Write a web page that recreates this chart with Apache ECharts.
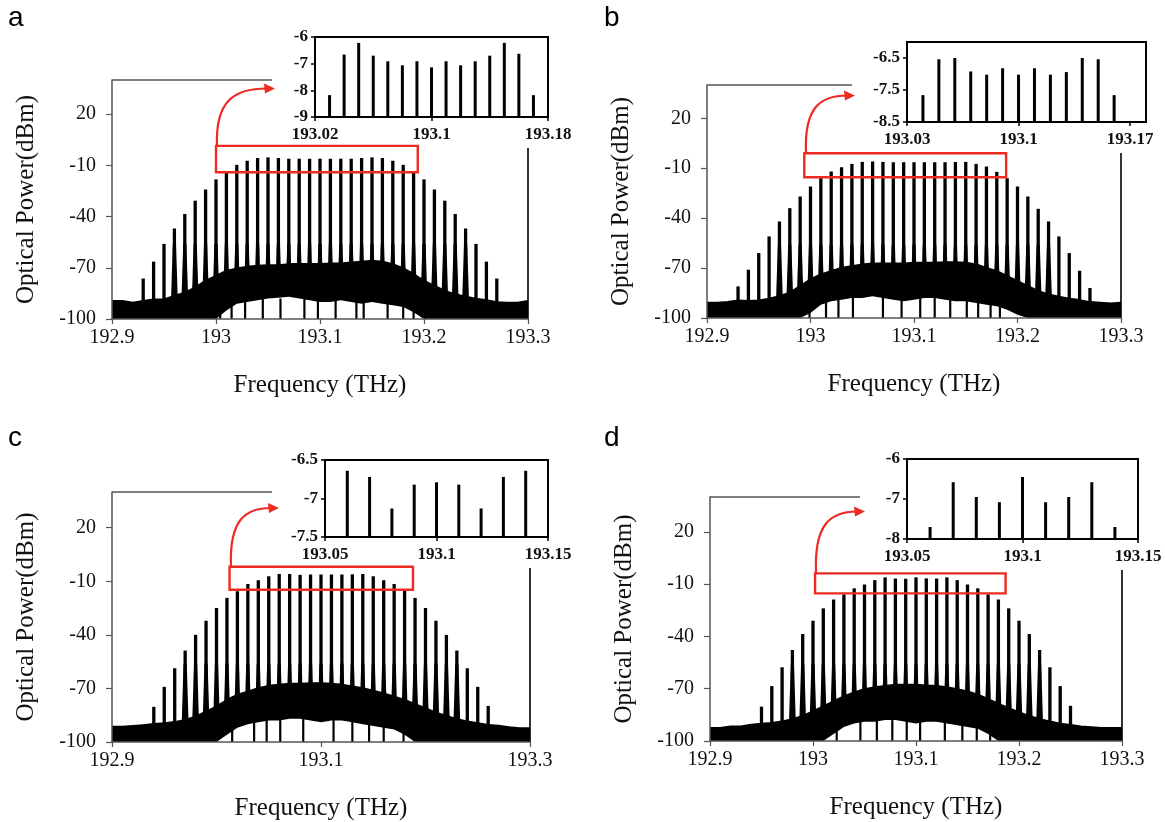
<!DOCTYPE html>
<html><head><meta charset="utf-8">
<script src="https://cdn.jsdelivr.net/npm/echarts@6/dist/echarts.min.js"></script>
<style>html,body{margin:0;padding:0;background:#fff}#c{width:1165px;height:822px}</style>
</head><body><div id="c"></div>
<script>
// ---------------- data ----------------
const noiseFreq = [192.90,192.91,192.92,192.93,192.94,192.95,192.96,192.97,192.98,192.99,193.00,193.01,193.02,193.03,193.04,193.05,193.06,193.07,193.08,193.09,193.10,193.11,193.12,193.13,193.14,193.15,193.16,193.17,193.18,193.19,193.20,193.21,193.22,193.23,193.24,193.25,193.26,193.27,193.28,193.29,193.30];

// upper edge of the noise / pedestal band (dBm)
const noiseTopA = [-89.6,-89.6,-90.6,-89.6,-88.7,-88.7,-86.7,-84.7,-81.7,-77.8,-74.9,-72.0,-70.5,-69.6,-69.0,-68.6,-68.6,-68.0,-68.0,-68.0,-68.0,-67.6,-67.6,-67.0,-66.6,-66.0,-66.6,-68.0,-70.5,-73.9,-77.8,-80.7,-83.7,-85.7,-87.1,-88.3,-89.1,-90.3,-90.6,-90.6,-89.6];
const noiseTopB = [-91.0,-91.0,-90.6,-89.6,-90.0,-89.6,-88.6,-87.0,-85.0,-81.0,-77.0,-74.0,-72.0,-70.0,-69.0,-68.0,-67.4,-67.4,-67.4,-67.4,-67.0,-67.0,-67.0,-66.6,-66.6,-67.0,-68.0,-70.0,-72.0,-75.0,-78.0,-81.0,-84.0,-86.0,-87.4,-88.6,-89.4,-90.6,-91.0,-91.4,-91.0];
const noiseTopC = [-91.6,-91.6,-91.2,-90.7,-90.1,-89.6,-89.0,-87.8,-85.9,-83.1,-80.3,-76.6,-73.7,-71.9,-70.0,-68.7,-68.1,-67.5,-67.5,-67.2,-67.2,-67.5,-68.1,-69.1,-70.0,-71.4,-72.9,-74.7,-76.6,-78.9,-81.3,-83.7,-85.6,-87.4,-88.7,-89.6,-90.6,-91.1,-91.9,-92.4,-92.4];
const noiseTopD = [-92.7,-92.7,-91.8,-91.8,-90.8,-90.3,-89.8,-88.9,-87.7,-85.7,-83.2,-80.3,-77.4,-74.6,-72.3,-70.4,-69.3,-68.6,-67.9,-67.9,-67.9,-68.3,-68.6,-69.3,-70.4,-71.7,-73.6,-76.1,-78.8,-81.3,-83.8,-85.7,-87.6,-89.0,-90.3,-90.9,-91.8,-92.2,-92.7,-92.7,-92.7];

// top of the empty (white) region under the pedestal (-100 = none)
const gapTopA = [-100,-100,-100,-100,-100,-100,-100,-100,-100,-100,-100,-95,-91,-90,-89,-88,-87.5,-87,-88,-89,-90,-90,-89,-90,-91,-90,-91,-92,-93,-96,-100,-100,-100,-100,-100,-100,-100,-100,-100,-100,-100];
const gapTopB = [-100,-100,-100,-100,-100,-100,-100,-100,-100,-100,-97,-92,-90,-89,-88,-88,-87,-88,-89,-90,-89,-88,-88,-89,-90,-90,-91,-92,-93,-95,-98,-100,-100,-100,-100,-100,-100,-100,-100,-100,-100];
const gapTopC = [-100,-100,-100,-100,-100,-100,-100,-100,-100,-100,-100,-96,-92,-90,-89,-88,-88,-87,-87,-88,-89,-88,-88,-89,-90,-91,-92,-93,-96,-100,-100,-100,-100,-100,-100,-100,-100,-100,-100,-100,-100];
const gapTopD = [-100,-100,-100,-100,-100,-100,-100,-100,-100,-100,-100,-100,-96,-92,-90,-89,-89,-88,-88,-89,-90,-89,-89,-90,-91,-92,-93,-96,-100,-100,-100,-100,-100,-100,-100,-100,-100,-100,-100,-100,-100];

// noise strands reaching the floor inside the empty region
const strandFreqA = [193.004,193.015,193.028,193.045,193.062,193.085,193.098,193.115,193.135,193.142,193.165,193.18,193.19];
const strandTopA  = [-92,-88,-89,-87,-88,-87,-89,-88,-88,-89,-89,-90,-93];
const strandFreqB = [192.999,193.015,193.027,193.041,193.07,193.088,193.106,193.12,193.135,193.151,193.162,193.174,193.183];
const strandTopB  = [-95,-89,-88,-87,-87,-88,-88,-88,-88,-89,-90,-90,-91];
const strandFreqC = [193.015,193.036,193.048,193.061,193.083,193.112,193.13,193.146,193.16,193.179];
const strandTopC  = [-90,-88,-87,-87,-87,-87,-88,-89,-89,-91];
const strandFreqD = [193.023,193.046,193.062,193.077,193.091,193.104,193.128,193.145,193.159,193.172];
const strandTopD  = [-91,-88,-88,-88,-88,-88,-88,-89,-90,-91];

// comb lines of the main spectra
const combFreqAB = [192.93,192.94,192.95,192.96,192.97,192.98,192.99,193.00,193.01,193.02,193.03,193.04,193.05,193.06,193.07,193.08,193.09,193.10,193.11,193.12,193.13,193.14,193.15,193.16,193.17,193.18,193.19,193.20,193.21,193.22,193.23,193.24,193.25,193.26,193.27];
const combFreqC = [192.94,192.95,192.96,192.97,192.98,192.99,193.00,193.01,193.02,193.03,193.04,193.05,193.06,193.07,193.08,193.09,193.10,193.11,193.12,193.13,193.14,193.15,193.16,193.17,193.18,193.19,193.20,193.21,193.22,193.23,193.24,193.25,193.26];
const combFreqD = [192.95,192.96,192.97,192.98,192.99,193.00,193.01,193.02,193.03,193.04,193.05,193.06,193.07,193.08,193.09,193.10,193.11,193.12,193.13,193.14,193.15,193.16,193.17,193.18,193.19,193.20,193.21,193.22,193.23,193.24,193.25];
const combPowA = [-76.3,-66.4,-56.0,-47.0,-38.5,-30.7,-24.2,-18.2,-13.6,-9.7,-7.3,-5.7,-5.3,-5.7,-6.1,-6.1,-6.1,-6.1,-6.1,-6.1,-6.1,-5.7,-5.3,-5.7,-7.3,-9.7,-13.6,-18.2,-24.2,-30.7,-38.5,-47.0,-56.0,-66.4,-76.3];
const combPowB = [-81.0,-71.0,-61.0,-51.0,-42.0,-34.0,-27.0,-21.0,-16.0,-12.0,-9.4,-7.4,-6.2,-6.0,-6.2,-6.4,-6.4,-6.4,-6.4,-6.4,-6.4,-6.2,-6.2,-7.4,-9.0,-12.2,-16.0,-21.0,-27.0,-34.4,-42.0,-51.0,-61.0,-71.6,-82.0];
const combPowC = [-80.3,-69.1,-58.7,-48.8,-40.0,-32.1,-25.0,-19.3,-15.6,-11.5,-9.4,-7.2,-5.9,-5.9,-6.4,-6.2,-6.2,-6.2,-6.2,-6.1,-5.9,-7.2,-9.4,-11.5,-15.2,-19.3,-25.0,-32.1,-40.0,-48.8,-58.7,-69.1,-79.8];
const combPowD = [-80.3,-68.5,-57.7,-47.8,-38.6,-31.0,-23.9,-18.8,-15.9,-12.4,-10.2,-7.7,-6.1,-6.7,-6.9,-6.1,-6.7,-6.7,-6.1,-7.7,-10.2,-12.4,-15.9,-18.8,-23.9,-31.0,-38.6,-47.8,-57.7,-68.5,-79.8];

// insets (zoom on the flat top)
const insetFreqA = [193.03,193.04,193.05,193.06,193.07,193.08,193.09,193.10,193.11,193.12,193.13,193.14,193.15,193.16,193.17];
const insetPowA  = [-8.18,-6.66,-6.22,-6.70,-6.91,-7.06,-6.91,-7.14,-6.91,-7.06,-6.91,-6.70,-6.22,-6.63,-8.18];
const insetFreqB = [193.04,193.05,193.06,193.07,193.08,193.09,193.10,193.11,193.12,193.13,193.14,193.15,193.16];
const insetPowB  = [-7.66,-6.54,-6.50,-6.92,-7.02,-6.82,-7.02,-6.82,-7.02,-6.94,-6.50,-6.54,-7.66];
const insetFreqC = [193.06,193.07,193.08,193.09,193.10,193.11,193.12,193.13,193.14];
const insetPowC  = [-6.64,-6.72,-7.13,-6.82,-6.79,-6.82,-7.13,-6.72,-6.64];
const insetFreqD = [193.06,193.07,193.08,193.09,193.10,193.11,193.12,193.13,193.14];
const insetPowD  = [-7.70,-6.58,-6.95,-7.08,-6.45,-7.08,-6.95,-6.58,-7.70];

// tick labels
const mainYTicks = [-100,-70,-40,-10,20];
const mainXTicksFull = [192.9,193,193.1,193.2,193.3];
const mainXTicksSparse = [192.9,193.1,193.3];
const insetXTicksA = [193.02,193.1,193.18];
const insetYTicksA = [-9,-8,-7,-6];
const insetXTicksB = [193.03,193.1,193.17];
const insetYTicksB = [-8.5,-7.5,-6.5];
const insetXTicksCD = [193.05,193.1,193.15];
const insetYTicksC = [-7.5,-7,-6.5];
const insetYTicksD = [-8,-7,-6];

// ---------------- layout ----------------
const SERIF = '"Liberation Serif","Times New Roman",serif';
const SANS = '"Liberation Sans",Arial,sans-serif';
const GRAY = '#555';
const RED = '#ee2a22';

const panels = [
  { letter:'a', lx:8, ly:18,
    main:{left:112, top:80, right:528, bottom:319}, xTicks:mainXTicksFull,
    topLineEnd:272, rightLineTop:148,
    noiseTop:noiseTopA, gapTop:gapTopA, strandF:strandFreqA, strandT:strandTopA,
    combF:combFreqAB, combP:combPowA, box:[193.0,1.4,193.194,-14.0],
    arrow:{x0:217, y0:147, x1:275, y1:88.5},
    inset:{left:315, top:37, right:548, bottom:117}, ix:[193.02,193.18], iy:[-9,-6],
    ixTicks:insetXTicksA, iyTicks:insetYTicksA, iF:insetFreqA, iP:insetPowA },
  { letter:'b', lx:604, ly:18,
    main:{left:707, top:85, right:1121, bottom:318}, xTicks:mainXTicksFull,
    topLineEnd:852, rightLineTop:153,
    noiseTop:noiseTopB, gapTop:gapTopB, strandF:strandFreqB, strandT:strandTopB,
    combF:combFreqAB, combP:combPowB, box:[192.994,-1.0,193.189,-15.4],
    arrow:{x0:806, y0:153, x1:855, y1:95.5},
    inset:{left:907, top:42, right:1146, bottom:122}, ix:[193.03,193.18], iy:[-8.5,-6],
    ixTicks:insetXTicksB, iyTicks:insetYTicksB, iF:insetFreqB, iP:insetPowB },
  { letter:'c', lx:8, ly:438,
    main:{left:112, top:492, right:530, bottom:742}, xTicks:mainXTicksSparse,
    topLineEnd:272, rightLineTop:568,
    noiseTop:noiseTopC, gapTop:gapTopC, strandF:strandFreqC, strandT:strandTopC,
    combF:combFreqC, combP:combPowC, box:[193.0125,-1.9,193.188,-14.7],
    arrow:{x0:231, y0:567, x1:279, y1:508},
    inset:{left:325, top:460, right:548, bottom:537}, ix:[193.05,193.15], iy:[-7.5,-6.5],
    ixTicks:insetXTicksCD, iyTicks:insetYTicksC, iF:insetFreqC, iP:insetPowC },
  { letter:'d', lx:604, ly:438,
    main:{left:710, top:497, right:1122, bottom:741}, xTicks:mainXTicksFull,
    topLineEnd:860, rightLineTop:570,
    noiseTop:noiseTopD, gapTop:gapTopD, strandF:strandFreqD, strandT:strandTopD,
    combF:combFreqD, combP:combPowD, box:[193.002,-3.8,193.187,-15.3],
    arrow:{x0:816, y0:573, x1:865, y1:511.5},
    inset:{left:907, top:459, right:1138, bottom:539}, ix:[193.05,193.15], iy:[-8,-6],
    ixTicks:insetXTicksCD, iyTicks:insetYTicksD, iF:insetFreqD, iP:insetPowD }
];

const zip = (xs, ys) => xs.map((x, i) => [x, ys[i]]);

function stickRender(yFrom, width) {
  return function (params, api) {
    const x = api.value(0), y = api.value(1);
    const p0 = api.coord([x, yFrom]);
    const p1 = api.coord([x, y]);
    return { type:'line', shape:{x1:p0[0], y1:p0[1], x2:p1[0], y2:p1[1]},
             style:{stroke:'#000', lineWidth:width, lineCap:'butt'} };
  };
}
// comb line; strong lines get a widened foot where they leave the pedestal
function combRender(params, api) {
  const x = api.value(0), y = api.value(1);
  const pb = api.coord([x, -100]);
  const pt = api.coord([x, y]);
  const children = [];
  if (y > -50) {
    const pf = api.coord([x, -56]);
    children.push({ type:'polygon', shape:{points:[[pb[0]-4, pb[1]],[pf[0]-1.6, pf[1]],[pf[0]+1.6, pf[1]],[pb[0]+4, pb[1]]]}, style:{fill:'#000'} });
  }
  children.push({ type:'line', shape:{x1:pb[0], y1:pb[1], x2:pt[0], y2:pt[1]}, style:{stroke:'#000', lineWidth:3.3, lineCap:'butt'} });
  return { type:'group', children };
}

const option = { animation:false, backgroundColor:'#fff', grid:[], xAxis:[], yAxis:[], series:[], graphic:{elements:[]} };

panels.forEach((p) => {
  const gi = option.grid.length;
  const m = p.main;
  option.grid.push({ left:m.left, top:m.top, width:m.right-m.left, height:m.bottom-m.top, outerBoundsMode:'none', containLabel:false });
  option.xAxis.push({ gridIndex:gi, type:'value', min:192.9, max:193.3, z:10,
    axisLine:{show:true, onZero:false, lineStyle:{color:GRAY, width:1.5}},
    axisTick:{show:true, customValues:p.xTicks, length:5, lineStyle:{color:GRAY, width:1.2}},
    axisLabel:{customValues:p.xTicks, fontFamily:SERIF, fontSize:20, color:'#111', margin:9},
    splitLine:{show:false},
    name:'Frequency (THz)', nameLocation:'middle', nameGap:54,
    nameTextStyle:{fontFamily:SERIF, fontSize:25, color:'#111'} });
  option.yAxis.push({ gridIndex:gi, type:'value', min:-100, max:40, z:10,
    axisLine:{show:true, onZero:false, lineStyle:{color:GRAY, width:1.5}},
    axisTick:{show:true, customValues:mainYTicks, length:6, lineStyle:{color:GRAY, width:1.2}},
    axisLabel:{customValues:mainYTicks, fontFamily:SERIF, fontSize:20, color:'#111', margin:16},
    splitLine:{show:false},
    name:'Optical Power(dBm)', nameLocation:'middle', nameGap:73,
    nameTextStyle:{fontFamily:SERIF, fontSize:25, color:'#111'} });
  const ai = option.xAxis.length - 1;

  option.series.push({ type:'line', xAxisIndex:ai, yAxisIndex:ai, z:2, symbol:'none', silent:true,
    data:zip(noiseFreq, p.noiseTop), lineStyle:{color:'#000', width:2.5, join:'round'},
    areaStyle:{color:'#000', opacity:1, origin:'start'} });
  option.series.push({ type:'custom', xAxisIndex:ai, yAxisIndex:ai, z:3, silent:true,
    renderItem:combRender, encode:{x:0, y:1}, data:zip(p.combF, p.combP) });
  option.series.push({ type:'line', xAxisIndex:ai, yAxisIndex:ai, z:4, symbol:'none', silent:true,
    data:zip(noiseFreq, p.gapTop), lineStyle:{width:0, opacity:0},
    areaStyle:{color:'#fff', opacity:1, origin:'start'} });
  option.series.push({ type:'line', xAxisIndex:ai, yAxisIndex:ai, z:5, symbol:'none', silent:true,
    data:[], markArea:{ z:20, silent:true, label:{show:false},
      itemStyle:{color:'rgba(0,0,0,0)', borderColor:RED, borderWidth:2.4},
      data:[[{coord:[p.box[0], p.box[1]]},{coord:[p.box[2], p.box[3]]}]] } });
  option.series.push({ type:'custom', xAxisIndex:ai, yAxisIndex:ai, z:5, silent:true,
    renderItem:stickRender(-100, 2.2), encode:{x:0, y:1}, data:zip(p.strandF, p.strandT) });

  // frame remnants (top and right edges of the main plot, cut off by the inset)
  option.graphic.elements.push(
    { type:'line', z:1, silent:true, shape:{x1:m.left, y1:m.top, x2:p.topLineEnd, y2:m.top}, style:{stroke:GRAY, lineWidth:1.5} },
    { type:'line', z:1, silent:true, shape:{x1:m.right, y1:p.rightLineTop, x2:m.right, y2:m.bottom}, style:{stroke:'#333', lineWidth:2} }
  );

  // inset
  const ig = option.grid.length;
  const s = p.inset;
  option.grid.push({ left:s.left, top:s.top, width:s.right-s.left, height:s.bottom-s.top, outerBoundsMode:'none', containLabel:false,
    show:true, borderColor:'#000', borderWidth:2, backgroundColor:'rgba(0,0,0,0)', z:5 });
  option.xAxis.push({ gridIndex:ig, type:'value', min:p.ix[0], max:p.ix[1], z:6,
    axisLine:{show:true, onZero:false, lineStyle:{color:'#000', width:2}},
    axisTick:{show:true, customValues:p.ixTicks, length:4, lineStyle:{color:'#000', width:1.5}},
    axisLabel:{customValues:p.ixTicks, fontFamily:SERIF, fontSize:17, fontWeight:'bold', color:'#111', margin:9},
    splitLine:{show:false} });
  option.yAxis.push({ gridIndex:ig, type:'value', min:p.iy[0], max:p.iy[1], z:6,
    axisLine:{show:true, onZero:false, lineStyle:{color:'#000', width:2}},
    axisTick:{show:true, customValues:p.iyTicks, length:4, lineStyle:{color:'#000', width:1.5}},
    axisLabel:{customValues:p.iyTicks, fontFamily:SERIF, fontSize:17, fontWeight:'bold', color:'#111', margin:7},
    splitLine:{show:false} });
  const bi = option.xAxis.length - 1;
  option.series.push({ type:'custom', xAxisIndex:bi, yAxisIndex:bi, z:7, silent:true,
    renderItem:stickRender(p.iy[0], 3), encode:{x:0, y:1}, data:zip(p.iF, p.iP) });

  // red arrow from the box to the inset
  const a = p.arrow;
  option.graphic.elements.push(
    { type:'bezierCurve', z:50, silent:true,
      shape:{x1:a.x0, y1:a.y0, cpx1:a.x0-2, cpy1:a.y0-0.8*(a.y0-a.y1), cpx2:a.x0+0.3*(a.x1-a.x0), cpy2:a.y1, x2:a.x1-8, y2:a.y1},
      style:{stroke:RED, lineWidth:2.2, fill:null} },
    { type:'polygon', z:50, silent:true,
      shape:{points:[[a.x1, a.y1],[a.x1-11, a.y1-5],[a.x1-10, a.y1+5]]}, style:{fill:RED} },
    { type:'text', z:50, silent:true, x:p.lx, y:p.ly,
      style:{text:p.letter, font:'28px ' + SANS, fill:'#000', textAlign:'left', textVerticalAlign:'middle', align:'left', verticalAlign:'middle'} }
  );
});

const chart = echarts.init(document.getElementById('c'), null, {renderer:'canvas'});
chart.setOption(option);
</script></body></html>
